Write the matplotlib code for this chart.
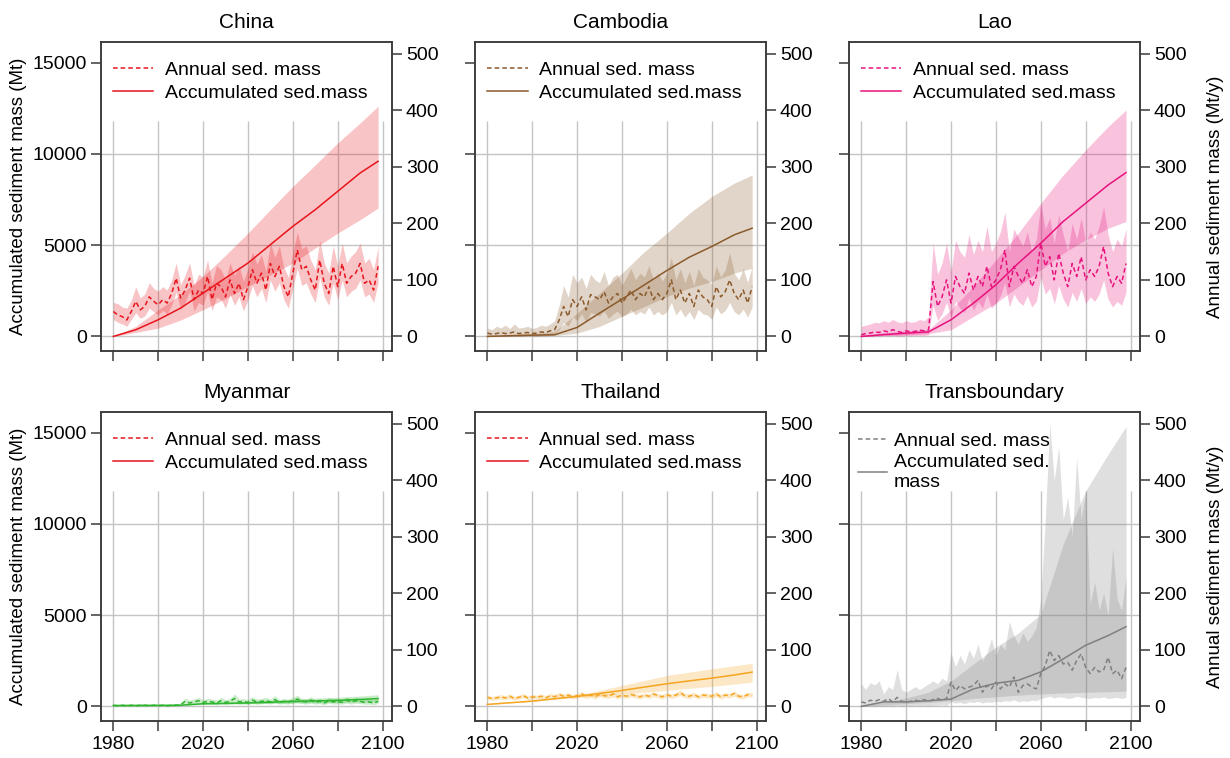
import numpy as np
import matplotlib
matplotlib.use('Agg')
import matplotlib.pyplot as plt
from matplotlib.lines import Line2D

plt.rcParams['font.family'] = ['Liberation Sans', 'DejaVu Sans']

# annual values every 2 years, accumulated values every 10 years (+2098)
years = np.arange(1980, 2099, 2)
years_acc = [1980, 1990, 2000, 2010, 2020, 2030, 2040, 2050, 2060, 2070, 2080, 2090, 2098]

# ---- China
china_ann = [44, 38, 35, 29, 44, 62, 47, 53, 70, 62, 56, 65, 59, 76, 103, 68, 82, 103, 65, 82,
             76, 106, 65, 94, 88, 70, 100, 76, 94, 65, 88, 118, 94, 112, 82, 129, 106, 124, 88, 70,
             112, 153, 118, 124, 100, 82, 135, 94, 76, 124, 88, 129, 94, 106, 112, 129, 94, 100, 82, 124]
china_ann_hi = [60, 58, 52, 50, 64, 88, 68, 75, 95, 85, 80, 88, 82, 100, 130, 92, 108, 130, 90, 110,
                105, 135, 95, 125, 118, 100, 130, 108, 125, 98, 120, 150, 128, 145, 115, 165, 140, 160, 122, 105,
                148, 185, 155, 160, 135, 118, 170, 130, 112, 160, 125, 165, 130, 142, 150, 165, 130, 138, 118, 158]
china_ann_lo = [30, 25, 22, 18, 30, 42, 32, 36, 50, 44, 38, 46, 40, 55, 78, 48, 60, 80, 45, 60,
                55, 80, 45, 70, 65, 50, 75, 55, 70, 45, 65, 90, 70, 85, 60, 100, 80, 95, 65, 50,
                85, 120, 90, 95, 75, 60, 105, 70, 55, 95, 65, 100, 70, 80, 85, 100, 70, 75, 60, 95]
china_acc = [0, 366, 914, 1554, 2377, 3200, 4022, 5027, 6033, 6947, 7952, 8958, 9600]
china_acc_hi = [0, 550, 1460, 2300, 3290, 4450, 5667, 6950, 8227, 9400, 10603, 11700, 12614]
china_acc_lo = [0, 220, 457, 900, 1463, 2080, 2742, 3380, 4022, 4850, 5667, 6400, 7038]

# ---- Cambodia
cambodia_ann = [6, 4, 5, 7, 5, 6, 8, 5, 6, 7, 5, 6, 8, 7, 10, 12, 29, 53, 35, 65,
                53, 70, 47, 74, 70, 65, 79, 59, 70, 76, 59, 70, 82, 65, 76, 70, 88, 65, 76, 65,
                76, 100, 65, 82, 59, 76, 53, 82, 70, 65, 53, 88, 70, 79, 100, 76, 65, 82, 59, 88]
cambodia_ann_hi = [15, 12, 18, 15, 20, 14, 22, 15, 16, 18, 14, 16, 20, 18, 22, 28, 55, 90, 70, 110,
                   95, 105, 85, 110, 100, 95, 115, 90, 105, 110, 90, 105, 120, 100, 112, 105, 125, 100, 112, 98,
                   112, 140, 100, 120, 95, 115, 90, 120, 105, 100, 92, 125, 105, 118, 148, 112, 100, 120, 95, 125]
cambodia_ann_lo = [0, 0, 0, 1, 0, 0, 1, 0, 0, 1, 0, 0, 1, 1, 2, 4, 12, 25, 18, 35,
                   28, 40, 25, 42, 40, 36, 45, 32, 40, 45, 35, 40, 48, 38, 44, 40, 52, 38, 44, 38,
                   44, 60, 38, 48, 34, 44, 30, 48, 40, 38, 30, 52, 40, 46, 60, 44, 38, 48, 34, 52]
cambodia_acc = [0, 40, 70, 91, 493, 1278, 2044, 2829, 3613, 4344, 4928, 5567, 5931]
cambodia_acc_hi = [0, 90, 150, 274, 1278, 2370, 3470, 4650, 5660, 6750, 7670, 8400, 8850]
cambodia_acc_lo = [0, 10, 30, 50, 180, 550, 1100, 1640, 2190, 2650, 3010, 3470, 3740]

# ---- Lao
lao_ann = [3, 5, 6, 8, 7, 10, 8, 12, 9, 7, 10, 8, 9, 11, 10, 12, 97, 53, 70, 100,
           59, 106, 88, 76, 112, 82, 106, 88, 124, 88, 100, 118, 153, 88, 124, 106, 94, 118, 88, 106,
           165, 124, 141, 100, 147, 112, 88, 129, 106, 141, 100, 118, 106, 124, 159, 112, 88, 106, 94, 129]
lao_ann_hi = [18, 20, 22, 25, 24, 28, 25, 30, 26, 24, 28, 25, 26, 30, 28, 35, 165, 110, 130, 165,
              115, 170, 150, 140, 180, 145, 170, 150, 195, 150, 165, 185, 220, 150, 190, 175, 160, 185, 150, 172,
              235, 190, 210, 165, 215, 180, 150, 200, 172, 210, 165, 185, 172, 195, 230, 180, 150, 172, 160, 190]
lao_ann_lo = [0, 0, 0, 1, 1, 2, 1, 2, 1, 1, 2, 1, 2, 2, 2, 3, 55, 28, 40, 60,
              32, 62, 50, 42, 68, 46, 62, 50, 75, 50, 58, 72, 95, 52, 75, 62, 55, 72, 52, 62,
              105, 75, 85, 58, 90, 66, 52, 78, 62, 85, 58, 70, 62, 75, 100, 66, 52, 62, 55, 78]
lao_acc = [0, 100, 180, 250, 913, 1826, 2830, 4015, 5110, 6300, 7300, 8300, 8980]
lao_acc_hi = [0, 200, 300, 380, 1460, 2740, 4200, 5660, 7300, 8850, 10220, 11500, 12410]
lao_acc_lo = [0, 40, 90, 150, 365, 1100, 1826, 2740, 3650, 4560, 5290, 5930, 6300]

# ---- Myanmar
myanmar_ann = [2, 1, 2, 1, 2, 1, 2, 2, 1, 2, 1, 2, 1, 2, 2, 3, 9, 6, 8, 10,
               7, 9, 8, 6, 10, 7, 9, 14, 8, 9, 7, 11, 8, 9, 10, 8, 12, 7, 9, 8,
               10, 13, 9, 8, 11, 7, 9, 6, 10, 8, 9, 7, 11, 8, 10, 9, 7, 8, 6, 9]
myanmar_ann_hi = [4, 3, 4, 3, 4, 3, 4, 4, 3, 4, 3, 4, 3, 4, 4, 6, 15, 11, 13, 16,
                  12, 14, 13, 11, 16, 12, 14, 22, 13, 14, 12, 17, 13, 14, 16, 13, 19, 12, 14, 13,
                  16, 20, 14, 13, 17, 12, 14, 11, 16, 13, 14, 12, 17, 13, 16, 14, 12, 13, 11, 14]
myanmar_ann_lo = [0, 0, 0, 0, 0, 0, 0, 0, 0, 0, 0, 0, 0, 0, 0, 1, 5, 3, 4, 6,
                  4, 5, 4, 3, 6, 4, 5, 8, 4, 5, 4, 6, 4, 5, 6, 4, 7, 4, 5, 4,
                  6, 7, 5, 4, 6, 4, 5, 3, 6, 4, 5, 4, 6, 4, 6, 5, 4, 4, 3, 5]
myanmar_acc = [50, 55, 60, 65, 146, 165, 190, 230, 270, 300, 330, 380, 430]
myanmar_acc_hi = [60, 70, 80, 90, 190, 230, 270, 330, 390, 450, 500, 570, 640]
myanmar_acc_lo = [40, 45, 50, 55, 110, 120, 140, 160, 180, 200, 220, 240, 260]

# ---- Thailand
thailand_ann = [16, 14, 15, 17, 15, 18, 14, 16, 19, 15, 17, 16, 18, 15, 19, 17, 21, 18, 20, 17,
                19, 22, 18, 20, 17, 21, 19, 18, 22, 17, 20, 18, 21, 19, 17, 20, 18, 22, 19, 17,
                21, 18, 20, 24, 19, 18, 21, 17, 20, 19, 18, 22, 17, 20, 19, 23, 18, 17, 21, 20]
thailand_ann_hi = [20, 18, 19, 21, 19, 22, 18, 20, 23, 19, 21, 20, 22, 19, 23, 21, 25, 22, 24, 21,
                   23, 26, 22, 24, 21, 25, 23, 22, 26, 21, 24, 22, 25, 23, 21, 24, 22, 26, 23, 21,
                   25, 22, 24, 29, 23, 22, 25, 21, 24, 23, 22, 26, 21, 24, 23, 27, 22, 21, 25, 24]
thailand_ann_lo = [12, 11, 12, 13, 12, 14, 11, 13, 15, 12, 13, 13, 14, 12, 15, 13, 16, 14, 16, 13,
                   15, 17, 14, 16, 13, 17, 15, 14, 17, 13, 16, 14, 17, 15, 13, 16, 14, 17, 15, 13,
                   17, 14, 16, 19, 15, 14, 17, 13, 16, 15, 14, 17, 13, 16, 15, 18, 14, 13, 17, 16]
thailand_acc = [110, 200, 290, 420, 548, 710, 876, 1060, 1240, 1400, 1550, 1720, 1880]
thailand_acc_hi = [120, 215, 310, 450, 600, 870, 1150, 1420, 1700, 1880, 2060, 2230, 2370]
thailand_acc_lo = [100, 185, 270, 390, 510, 600, 690, 780, 876, 990, 1095, 1220, 1330]

# ---- Transboundary
trans_ann = [8, 6, 11, 9, 12, 9, 14, 8, 16, 9, 8, 9, 11, 9, 12, 9, 12, 14, 11, 14,
             43, 28, 37, 31, 34, 37, 46, 25, 37, 31, 43, 31, 40, 34, 52, 25, 37, 40, 34, 31,
             58, 72, 99, 81, 90, 75, 78, 64, 81, 93, 69, 58, 69, 61, 64, 87, 58, 64, 49, 69]
trans_ann_hi = [40, 30, 42, 38, 45, 22, 35, 30, 65, 30, 25, 30, 35, 30, 35, 40, 45, 40, 50, 45,
                95, 70, 90, 75, 100, 85, 110, 80, 95, 120, 90, 110, 100, 150, 125, 110, 130, 115, 125, 140,
                190, 330, 500, 400, 460, 330, 370, 300, 440, 330, 380, 180, 220, 170, 200, 160, 280, 190, 170, 230]
trans_ann_lo = [0, 0, 1, 0, 1, 0, 1, 0, 2, 0, 1, 1, 2, 1, 2, 1, 2, 2, 3, 2,
                8, 6, 7, 5, 8, 7, 9, 6, 8, 7, 9, 8, 10, 9, 12, 8, 10, 9, 11, 10,
                14, 16, 18, 15, 17, 16, 14, 15, 18, 16, 15, 14, 16, 15, 17, 14, 15, 16, 14, 16]
trans_acc = [0, 250, 250, 310, 400, 960, 1270, 1430, 1890, 2600, 3350, 3880, 4370]
trans_acc_hi = [62, 248, 465, 775, 1395, 2325, 3255, 4030, 5053, 8897, 11811, 13826, 15345]
trans_acc_lo = [0, 93, 155, 217, 310, 434, 527, 620, 682, 744, 775, 806, 837]

names = ['China', 'Cambodia', 'Lao', 'Myanmar', 'Thailand', 'Transboundary']
colors = ['#e8141c', '#8b5a2b', '#e8127c', '#2db52d', '#f5a51f', '#808080']
legend_colors = ['#e8141c', '#8b5a2b', '#e8127c', '#e8141c', '#e8141c', '#808080']

panels = [
    (china_ann, china_ann_lo, china_ann_hi, china_acc, china_acc_lo, china_acc_hi),
    (cambodia_ann, cambodia_ann_lo, cambodia_ann_hi, cambodia_acc, cambodia_acc_lo, cambodia_acc_hi),
    (lao_ann, lao_ann_lo, lao_ann_hi, lao_acc, lao_acc_lo, lao_acc_hi),
    (myanmar_ann, myanmar_ann_lo, myanmar_ann_hi, myanmar_acc, myanmar_acc_lo, myanmar_acc_hi),
    (thailand_ann, thailand_ann_lo, thailand_ann_hi, thailand_acc, thailand_acc_lo, thailand_acc_hi),
    (trans_ann, trans_ann_lo, trans_ann_hi, trans_acc, trans_acc_lo, trans_acc_hi),
]

fs = 14
spine_c = '#3a3a3a'
grid_c = '#c4c4c4'

fig = plt.figure(figsize=(12.3, 7.58), dpi=100)
lefts = [0.0821, 0.3862, 0.6902]
bottoms = [0.5369, 0.0488]
w, h = 0.2366, 0.408

for i, (ann, ann_lo, ann_hi, acc, acc_lo, acc_hi) in enumerate(panels):
    r, c = divmod(i, 3)
    col = colors[i]
    ax = fig.add_axes([lefts[c], bottoms[r], w, h])
    ax2 = ax.twinx()

    ax.set_xlim(1974.5, 2104.2)
    ax.set_ylim(-800, 16150)
    ax2.set_ylim(-25.8, 521)

    # grid
    for yv in [0, 5000, 10000]:
        ax.axhline(yv, color=grid_c, lw=1, zorder=0)
    ax.vlines(range(1980, 2101, 20), -800, 11800, color=grid_c, lw=1, zorder=0)

    # accumulated (left axis)
    ax.fill_between(years_acc, acc_lo, acc_hi, color=col, alpha=0.25, lw=0)
    ax.plot(years_acc, acc, color=col, lw=1.1)
    # annual (right axis)
    ax2.fill_between(years, ann_lo, ann_hi, color=col, alpha=0.25, lw=0)
    ax2.plot(years, ann, color=col, lw=1.1, dashes=(3, 2))

    for a in (ax, ax2):
        for s in a.spines.values():
            s.set_color(spine_c)
            s.set_linewidth(1.1)

    ax.set_xticks(range(1980, 2101, 20))
    ax.set_xticklabels(['1980', '', '2020', '', '2060', '', '2100'])
    ax.set_yticks([0, 5000, 10000, 15000])
    ax2.set_yticks([0, 100, 200, 300, 400, 500])
    ax.tick_params(axis='x', direction='out', length=7, width=1.1, color=spine_c,
                   labelsize=fs, pad=4, labelbottom=(r == 1))
    ax.tick_params(axis='y', direction='out', length=7, width=1.1, color=spine_c,
                   labelsize=fs, pad=3, labelleft=(c == 0))
    ax2.tick_params(axis='y', direction='out', length=7, width=1.1, color=spine_c,
                    labelsize=fs, pad=3)

    if c == 0:
        ax.set_ylabel('Accumulated sediment mass (Mt)', fontsize=13.5, labelpad=4)
    if c == 2:
        ax2.set_ylabel('Annual sediment mass (Mt/y)', fontsize=13.5, labelpad=15)

    ax.set_title(names[i], fontsize=15, pad=10)

    lc = legend_colors[i]
    handles = [Line2D([], [], color=lc, lw=1.1, dashes=(3, 2)),
               Line2D([], [], color=lc, lw=1.1)]
    if i == 5:
        ax2.legend(handles, ['Annual sed. mass', 'Accumulated sed.\nmass'], loc='upper left',
                   bbox_to_anchor=(-0.01, 0.97), frameon=False, fontsize=fs, handlelength=1.5,
                   handletextpad=0.35, labelspacing=0.2, borderaxespad=0.2)
    else:
        ax2.legend(handles, ['Annual sed. mass', 'Accumulated sed.mass'], loc='upper left',
                   bbox_to_anchor=(0.0, 0.975), frameon=False, fontsize=fs, handlelength=2.1,
                   handletextpad=0.6, labelspacing=0.3, borderaxespad=0.2)

fig.savefig('out.png', dpi=100)
